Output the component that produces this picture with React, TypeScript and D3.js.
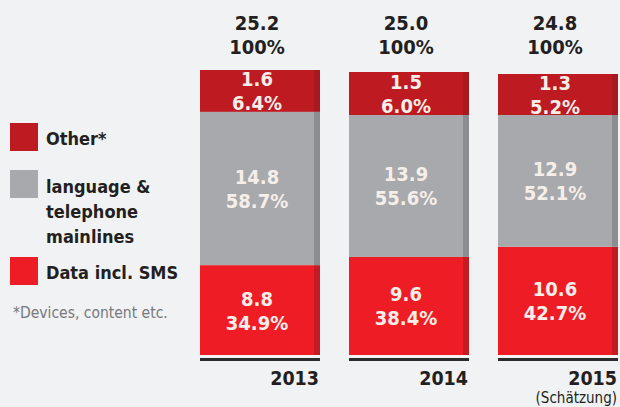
import React from "react";
import * as d3 from "d3";

const years = ["2013", "2014", "2015"];
const yearNotes = ["", "", "(Schätzung)"];
const dataValues = [8.8, 9.6, 10.6];
const dataShares = ["34.9%", "38.4%", "42.7%"];
const voiceValues = [14.8, 13.9, 12.9];
const voiceShares = ["58.7%", "55.6%", "52.1%"];
const otherValues = [1.6, 1.5, 1.3];
const otherShares = ["6.4%", "6.0%", "5.2%"];
const totals = [25.2, 25.0, 24.8];
const totalShares = ["100%", "100%", "100%"];
const legendLabels = [["Other*"], ["language &", "telephone", "mainlines"], ["Data incl. SMS"]];
const footnote = "*Devices, content etc.";

const W = 620;
const H = 407;
const FONT = "'Liberation Sans Narrow', 'DejaVu Sans Condensed', 'Open Sans', sans-serif";
const BG = "#f1f2f4";
const TXT = "#231f20";
const LABEL = "#f6eee8";

const colors = {
  other: { main: "#bd1a22", strip: "#a8191f" },
  voice: { main: "#a7a9ac", strip: "#8b8d90" },
  data: { main: "#ee1d25", strip: "#c41b22" },
};

export default function App() {
  const x = d3.scaleBand<string>().domain(years).range([200, 618]).paddingInner(29 / 149).paddingOuter(0);
  const bw = x.bandwidth();
  const strip = 6;
  const lowerSums = dataValues.map((d, i) => d + voiceValues[i]);
  const y = d3
    .scaleLinear()
    .domain([0, d3.min(lowerSums)!, d3.min(totals)!, d3.max(totals)!])
    .range([355, 115, 74, 70]);

  const segs = years.map((yr, i) => {
    const x0 = x(yr)!;
    const parts = [
      { key: "data", lo: 0, hi: dataValues[i], v: dataValues[i], s: dataShares[i] },
      { key: "voice", lo: dataValues[i], hi: lowerSums[i], v: voiceValues[i], s: voiceShares[i] },
      { key: "other", lo: lowerSums[i], hi: totals[i], v: otherValues[i], s: otherShares[i] },
    ];
    return { yr, i, x0, parts };
  });

  const legendY = [123, 170, 257];
  const legendKeys = ["other", "voice", "data"] as const;

  return (
    <svg width={W} height={H} style={{ position: "absolute", left: 0, top: 0 }} fontFamily={FONT}>
      <rect x={0} y={0} width={W} height={H} fill={BG} />
      {segs.map((b) => (
        <g key={b.yr}>
          {b.parts.map((p) => {
            const c = colors[p.key as keyof typeof colors];
            const top = y(p.hi);
            const bot = y(p.lo);
            const cy = (top + bot) / 2;
            const cx = b.x0 + (bw - strip) / 2;
            return (
              <g key={p.key}>
                <rect x={b.x0} y={top} width={bw - strip} height={bot - top} fill={c.main} />
                <rect x={b.x0 + bw - strip} y={top} width={strip} height={bot - top} fill={c.strip} />
                <text x={cx} y={cy - 4.5} textAnchor="middle" fontSize={20} fontWeight={700} fill={LABEL}>
                  {d3.format(".1f")(p.v)}
                </text>
                <text x={cx} y={cy + 19.5} textAnchor="middle" fontSize={20} fontWeight={700} fill={LABEL}>
                  {p.s}
                </text>
              </g>
            );
          })}
          <rect x={b.x0} y={358} width={bw} height={3} fill="#2b2b2b" />
          <text x={b.x0 + (bw - strip) / 2} y={30} textAnchor="middle" fontSize={20} fontWeight={700} fill={TXT}>
            {d3.format(".1f")(totals[b.i])}
          </text>
          <text x={b.x0 + (bw - strip) / 2} y={54} textAnchor="middle" fontSize={20} fontWeight={700} fill={TXT}>
            {totalShares[b.i]}
          </text>
          <text x={b.x0 + bw - 1} y={384.5} textAnchor="end" fontSize={19.5} fontWeight={700} fill={TXT}>
            {b.yr}
          </text>
          {yearNotes[b.i] && (
            <text x={b.x0 + bw - 1} y={403} textAnchor="end" fontSize={15} fill={TXT}>
              {yearNotes[b.i]}
            </text>
          )}
        </g>
      ))}
      {legendKeys.map((k, i) => (
        <g key={k}>
          <rect x={10} y={legendY[i]} width={28} height={28} fill={colors[k].main} />
          {legendLabels[i].map((line, j) => (
            <text
              key={j}
              x={46}
              y={(i === 1 ? 193 : legendY[i] + 22) + j * 25}
              fontSize={18}
              fontWeight={700}
              fill={TXT}
            >
              {line}
            </text>
          ))}
        </g>
      ))}
      <text x={13} y={318} fontSize={15.5} fill="#77787b">
        {footnote}
      </text>
    </svg>
  );
}
